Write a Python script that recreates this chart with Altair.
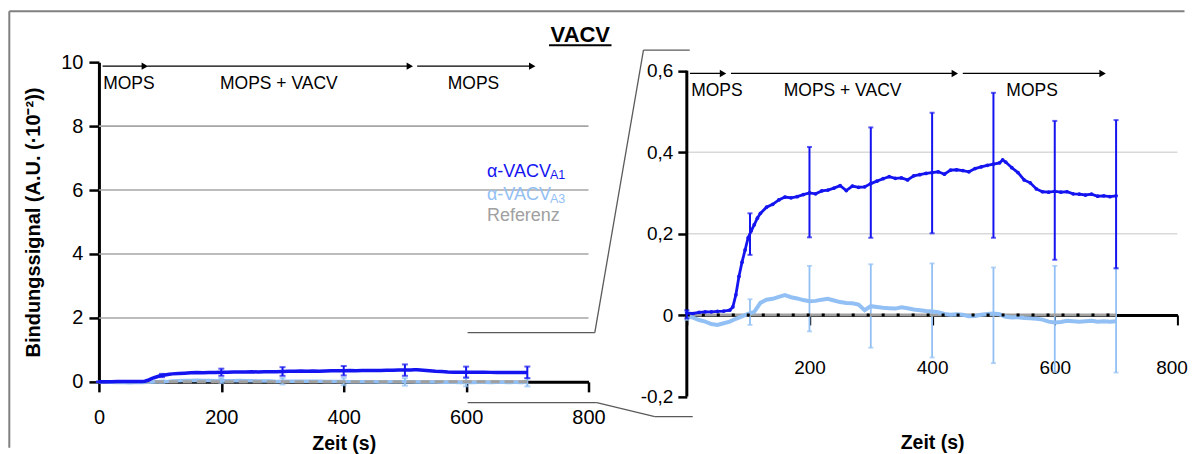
import altair as alt
import pandas as pd

FONT = "Liberation Sans"
BLUE = "#1414f0"
LBLUE = "#92c0f4"
GREY = "#a0a0a0"

# ---------------- data ----------------
t_a1 = [0, 10, 20, 30, 40, 50, 60, 70, 75, 80, 85, 90, 95, 100, 105, 110, 115, 120,
        130, 140, 150, 160, 170, 180, 190, 200, 210, 220, 230, 240, 250, 260, 270, 280,
        290, 300, 310, 320, 330, 340, 350, 360, 370, 380, 390, 400, 410, 420, 430, 440,
        450, 460, 470, 480, 490, 500, 510, 515, 520, 530, 540, 550, 560, 570, 580, 590,
        600, 610, 620, 630, 640, 650, 660, 670, 680, 690, 700]
a1 = [0.005, 0.004, 0.007, 0.008, 0.008, 0.009, 0.010, 0.012, 0.020, 0.050, 0.095, 0.130,
      0.160, 0.190, 0.207, 0.222, 0.238, 0.250,
      0.265, 0.272, 0.283, 0.290, 0.288, 0.291, 0.296, 0.300, 0.298, 0.305, 0.307, 0.312,
      0.318, 0.306, 0.317, 0.314, 0.315, 0.323, 0.329, 0.335, 0.340, 0.336, 0.337, 0.332,
      0.342, 0.345, 0.348, 0.350, 0.352, 0.346, 0.356, 0.357, 0.355, 0.352, 0.360, 0.364,
      0.368, 0.371, 0.374, 0.381,
      0.376, 0.362, 0.350, 0.332, 0.325, 0.310, 0.303, 0.302, 0.304, 0.302, 0.303, 0.298,
      0.297, 0.295, 0.297, 0.292, 0.293, 0.291, 0.293]

t_a3 = list(range(0, 701, 10))
a3 = [-0.003, -0.006, -0.012, -0.016, -0.022, -0.024, -0.020, -0.016, -0.009, -0.003,
      0.003, 0.008, 0.030, 0.038, 0.040, 0.045, 0.049, 0.044, 0.041, 0.037,
      0.034, 0.035, 0.038, 0.040, 0.036, 0.032, 0.030, 0.029, 0.026, 0.012,
      0.022, 0.020, 0.018, 0.017, 0.016, 0.019, 0.017, 0.014, 0.012, 0.010,
      0.009, 0.007, 0.003, 0.001, 0.002, 0.001, -0.003, -0.002, 0.001, 0.003,
      0.004, 0.002, -0.004, -0.006, -0.005, -0.007, -0.008, -0.009, -0.011, -0.016,
      -0.018, -0.017, -0.014, -0.015, -0.016, -0.015, -0.014, -0.016, -0.015, -0.016,
      -0.015]

err_t = [0, 103, 200, 300, 400, 500, 600, 700]
a1_lo = [-0.008, 0.148, 0.191, 0.190, 0.201, 0.190, 0.136, 0.115]
a1_hi = [0.012, 0.250, 0.413, 0.461, 0.497, 0.546, 0.477, 0.479]
a3_lo = [-0.012, -0.024, -0.040, -0.080, -0.104, -0.118, -0.139, -0.141]
a3_hi = [0.008, 0.039, 0.121, 0.125, 0.127, 0.117, 0.121, 0.115]

ref_t = [0, 700]
ref_v = [0.0, 0.0]

phase_labels = ["MOPS", "MOPS + VACV", "MOPS"]
phase_start_L = [6, 79, 520]
phase_end_L = [75, 508, 708]
phase_start_R = [5, 72, 450]
phase_end_R = [59, 437, 678]

grid_left = [2, 4, 6, 8]
grid_right = [0.2, 0.4]
xticks = [0, 200, 400, 600, 800]

# ---------------- tables ----------------
df_a1 = pd.DataFrame({"t": t_a1, "v": a1})
df_a3 = pd.DataFrame({"t": t_a3, "v": a3})
df_e1 = pd.DataFrame({"t": err_t, "lo": a1_lo, "hi": a1_hi})
df_e3 = pd.DataFrame({"t": err_t, "lo": a3_lo, "hi": a3_hi})
df_ref = pd.DataFrame({"t": ref_t, "v": ref_v})
df_one = pd.DataFrame({"k": [0]})


def phases(starts, ends, mids):
    return pd.DataFrame({"s": starts, "e": ends, "label": phase_labels, "mid": mids})


# ---------------- left panel ----------------
W1, H1 = 490, 320
xsL = alt.Scale(domain=[0, 800], nice=False, zero=False)
ysL = alt.Scale(domain=[0, 10], nice=False, zero=False)
axXL = alt.Axis(values=xticks, title="Zeit (s)", grid=False, domainColor="black",
                domainWidth=3, tickColor="black", tickWidth=2.5, tickSize=10,
                labelFontSize=20, labelPadding=16, labelColor="black", labelFlush=False,
                titleFontSize=19.5, titleFontWeight="bold", titlePadding=7,
                titleColor="black", format="d")
axYL = alt.Axis(values=[0, 2, 4, 6, 8, 10], title="Bindungssignal (A.U. (·10⁻²))",
                grid=False, domainColor="black", domainWidth=3, tickColor="black",
                tickWidth=2.5, tickSize=10, labelFontSize=20, labelPadding=6,
                labelColor="black", labelFlush=False, titleFontSize=20,
                titleFontWeight="bold", titlePadding=17, titleColor="black", format="d")


def XL(f="t"):
    return alt.X(f"{f}:Q", scale=xsL, axis=axXL)


def YL(f="v"):
    return alt.Y(f"{f}:Q", scale=ysL, axis=axYL)


gridL = alt.Chart(pd.DataFrame({"g": grid_left})).mark_rule(
    color="#a6a6a6", strokeWidth=1.6).encode(
    y=alt.Y("g:Q", scale=ysL, axis=axYL), x=alt.datum(0), x2=alt.datum(800))

a3L = alt.Chart(df_a3).mark_line(color=LBLUE, strokeWidth=3.5).encode(x=XL(), y=YL())
e3L = alt.Chart(df_e3).mark_rule(color=LBLUE, strokeWidth=2).encode(
    x=XL(), y=YL("lo"), y2="hi:Q")
e3Lc1 = alt.Chart(df_e3).mark_tick(color=LBLUE, orient="horizontal", size=6,
                                  thickness=2).encode(x=XL(), y=YL("lo"))
e3Lc2 = alt.Chart(df_e3).mark_tick(color=LBLUE, orient="horizontal", size=6,
                                  thickness=2).encode(x=XL(), y=YL("hi"))
refL = alt.Chart(df_ref).mark_line(color=GREY, strokeWidth=3, strokeDash=[9, 5]).encode(
    x=XL(), y=YL())
a1L = alt.Chart(df_a1).mark_line(color=BLUE, strokeWidth=3.5).encode(x=XL(), y=YL())
e1L = alt.Chart(df_e1).mark_rule(color=BLUE, strokeWidth=2).encode(
    x=XL(), y=YL("lo"), y2="hi:Q")
e1Lc1 = alt.Chart(df_e1).mark_tick(color=BLUE, orient="horizontal", size=6,
                                  thickness=2).encode(x=XL(), y=YL("lo"))
e1Lc2 = alt.Chart(df_e1).mark_tick(color=BLUE, orient="horizontal", size=6,
                                  thickness=2).encode(x=XL(), y=YL("hi"))

phL = phases(phase_start_L, phase_end_L, [49, 294, 612])
arrL = alt.Chart(phL).mark_rule(color="black", strokeWidth=1.2).encode(
    x=XL("s"), x2="e:Q", y=alt.datum(9.875))
headL = alt.Chart(phL).mark_point(shape="triangle-right", filled=True, size=55,
                                  color="black", opacity=1).encode(
    x=XL("e"), y=alt.datum(9.875))
labL = alt.Chart(phL).mark_text(fontSize=17.5, color="black", baseline="middle",
                                align="center").encode(
    x=XL("mid"), y=alt.datum(9.33), text="label:N")

leg_scale = alt.Scale(domain=["a1", "a3", "ref"], range=[BLUE, LBLUE, GREY])
leg_main = alt.Chart(pd.DataFrame({
    "x": [634, 634, 634], "y": [6.40, 5.69, 5.02],
    "txt": ["α-VACV", "α-VACV", "Referenz"],
    "c": ["a1", "a3", "ref"]})).mark_text(fontSize=18, align="left",
                                          baseline="alphabetic").encode(
    x=XL("x"), y=YL("y"), text="txt:N",
    color=alt.Color("c:N", scale=leg_scale, legend=None))
leg_sub = alt.Chart(pd.DataFrame({
    "x": [737, 737], "y": [6.33, 5.60], "txt": ["A1", "A3"],
    "c": ["a1", "a3"]})).mark_text(fontSize=12.5, align="left",
                                   baseline="alphabetic").encode(
    x=XL("x"), y=YL("y"), text="txt:N",
    color=alt.Color("c:N", scale=leg_scale, legend=None))


def seg(x1, y1, x2, y2, color, width):
    return alt.Chart(df_one).mark_rule(color=color, strokeWidth=width).encode(
        x=alt.value(x1), y=alt.value(y1), x2=alt.value(x2), y2=alt.value(y2))


# decorations in pixel space of the left panel (frame, title, zoom connectors)
FR = "#808080"
CN = "#5a5a5a"
deco = [
    seg(-89.7, -51, 1086.5, -51, FR, 2),
    seg(-89.7, -51, -89.7, 386, FR, 2),
    seg(369, 270.7, 496.3, 270.7, CN, 1.3),
    seg(496.3, 270.7, 545, -12, CN, 1.3),
    seg(545, -12, 591.3, -12, CN, 1.3),
    seg(369, 340.7, 498.3, 340.7, CN, 1.3),
    seg(498.3, 340.7, 556.3, 354.7, CN, 1.3),
    seg(556.3, 354.7, 594.3, 354.7, CN, 1.3),
    seg(450.5, -17, 513, -17, "black", 2),
]
title = alt.Chart(df_one).mark_text(text="VACV", fontSize=22, fontWeight="bold",
                                    color="black", align="center",
                                    baseline="alphabetic").encode(
    x=alt.value(481.8), y=alt.value(-20.5))

left = alt.layer(gridL, a3L, e3L, e3Lc1, e3Lc2, refL, a1L, e1L, e1Lc1, e1Lc2,
                 arrL, headL, labL, leg_main, leg_sub, title, *deco).properties(
    width=W1, height=H1)

# ---------------- right panel (zoom) ----------------
W2, H2 = 491, 334.7
xsR = alt.Scale(domain=[0, 800], nice=False, zero=False)
ysR = alt.Scale(domain=[-0.2, 0.6213], nice=False, zero=False)
lab_expr_y = ("datum.value == 0 ? '0' : "
              "replace(replace(format(datum.value, '.1f'), '.', ','), '\u2212', '-')")
axXR = alt.Axis(values=xticks, title="Zeit (s)", grid=False, domainColor="black",
                domainWidth=3, tickColor="black", tickWidth=2, tickSize=10,
                offset=-81.7, labelFontSize=19, labelPadding=34, labelColor="black",
                labelFlush=True, labelFlushOffset=10,
                labelExpr="datum.value == 0 ? '' : datum.label",
                titleFontSize=19.5, titleFontWeight="bold", titlePadding=56,
                titleColor="black", format="d")
axYR = alt.Axis(values=[-0.2, 0, 0.2, 0.4, 0.6], title=None, grid=False, domain=False,
                tickColor="black", tickWidth=2.5, tickSize=9, labelFontSize=19,
                labelPadding=5, labelColor="black", labelFlush=False,
                labelExpr=lab_expr_y)


def XR(f="t"):
    return alt.X(f"{f}:Q", scale=xsR, axis=axXR)


def YR(f="v"):
    return alt.Y(f"{f}:Q", scale=ysR, axis=axYR)


gridR = alt.Chart(pd.DataFrame({"g": grid_right})).mark_rule(
    color="#d9d9d9", strokeWidth=1.5).encode(
    y=alt.Y("g:Q", scale=ysR, axis=axYR), x=alt.datum(0), x2=alt.datum(800))
yline = alt.Chart(df_one).mark_rule(color="black", strokeWidth=3).encode(
    x=alt.datum(0), y=alt.datum(-0.2), y2=alt.datum(0.6))

e3R = alt.Chart(df_e3).mark_rule(color=LBLUE, strokeWidth=1.8).encode(
    x=XR(), y=YR("lo"), y2="hi:Q")
e3Rc1 = alt.Chart(df_e3).mark_tick(color=LBLUE, orient="horizontal", size=5,
                                  thickness=1.8).encode(x=XR(), y=YR("lo"))
e3Rc2 = alt.Chart(df_e3).mark_tick(color=LBLUE, orient="horizontal", size=5,
                                  thickness=1.8).encode(x=XR(), y=YR("hi"))
refR = alt.Chart(df_ref).mark_line(color=GREY, strokeWidth=3).encode(x=XR(), y=YR())
a3R = alt.Chart(df_a3).mark_line(color=LBLUE, strokeWidth=4).encode(x=XR(), y=YR())
dotR = alt.Chart(df_ref).mark_line(color="black", strokeWidth=3,
                                   strokeDash=[3, 12]).encode(x=XR(), y=YR())
e1R = alt.Chart(df_e1).mark_rule(color=BLUE, strokeWidth=2).encode(
    x=XR(), y=YR("lo"), y2="hi:Q")
e1Rc1 = alt.Chart(df_e1).mark_tick(color=BLUE, orient="horizontal", size=5,
                                  thickness=2).encode(x=XR(), y=YR("lo"))
e1Rc2 = alt.Chart(df_e1).mark_tick(color=BLUE, orient="horizontal", size=5,
                                  thickness=2).encode(x=XR(), y=YR("hi"))
a1R = alt.Chart(df_a1).mark_line(color=BLUE, strokeWidth=2.8).encode(x=XR(), y=YR())
a1Rp = alt.Chart(df_a1).mark_circle(color=BLUE, size=14, opacity=1).encode(
    x=XR(), y=YR())

phR = phases(phase_start_R, phase_end_R, [49, 254, 563])
arrR = alt.Chart(phR).mark_rule(color="black", strokeWidth=1.2).encode(
    x=XR("s"), x2="e:Q", y=alt.datum(0.5936))
headR = alt.Chart(phR).mark_point(shape="triangle-right", filled=True, size=55,
                                  color="black", opacity=1).encode(
    x=XR("e"), y=alt.datum(0.5936))
labR = alt.Chart(phR).mark_text(fontSize=17.5, color="black", baseline="middle",
                                align="center").encode(
    x=XR("mid"), y=alt.datum(0.551), text="label:N")

right = alt.layer(gridR, yline, e3R, e3Rc1, e3Rc2, refR, a3R, dotR, e1R, e1Rc1, e1Rc2,
                  a1R, a1Rp, arrR, headR, labR).properties(width=W2, height=H2)

chart = alt.hconcat(left, right, spacing=98.4, bounds="flush").properties(
    padding={"left": 0, "top": 2, "right": 0, "bottom": 0}
).configure(font=FONT).configure_view(stroke=None).configure_axis(
    labelFont=FONT, titleFont=FONT)

chart.save("out.html", embed_options={"renderer": "svg", "actions": False})
